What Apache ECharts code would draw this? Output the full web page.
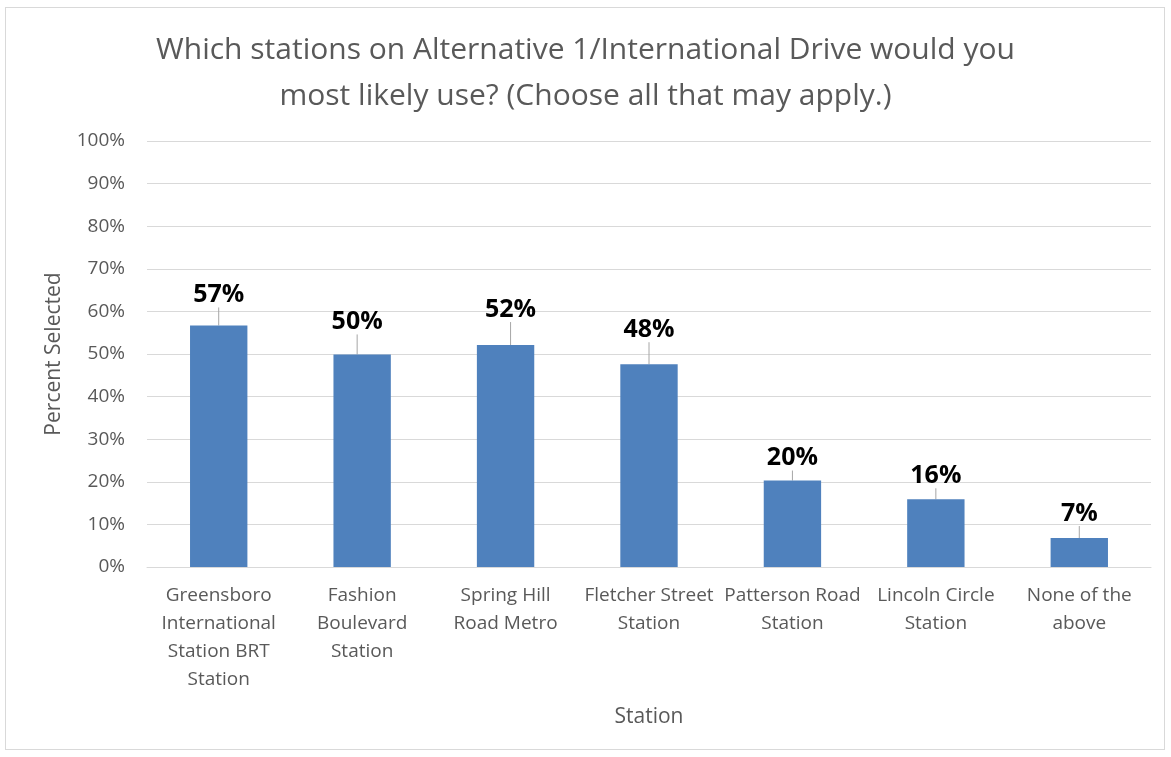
<!DOCTYPE html>
<html>
<head>
<meta charset="utf-8">
<script src="https://cdn.jsdelivr.net/npm/echarts@6/dist/echarts.min.js"></script>
<style>
html,body{margin:0;padding:0;background:#fff;}
#frame{position:absolute;left:5px;top:7px;width:1160px;height:743px;border:1px solid #D9D9D9;box-sizing:border-box;}
#chart{position:absolute;left:0;top:0;width:1171px;height:757px;}
</style>
</head>
<body>
<div id="frame"></div>
<div id="chart"></div>
<script>
var titleText = 'Which stations on Alternative 1/International Drive would you\nmost likely use? (Choose all that may apply.)';
var categories = [
  'Greensboro\nInternational\nStation BRT\nStation',
  'Fashion\nBoulevard\nStation',
  'Spring Hill\nRoad Metro',
  'Fletcher Street\nStation',
  'Patterson Road\nStation',
  'Lincoln Circle\nStation',
  'None of the\nabove'
];
var percentSelected = [56.7, 49.9, 52.1, 47.6, 20.3, 15.9, 6.8];
var yTicks = [0, 10, 20, 30, 40, 50, 60, 70, 80, 90, 100];
var yAxisName = 'Percent Selected';
var xAxisName = 'Station';

var labelDy = [-13, -15, -18, -17, -5, -6, -7];
var labelDx = [0, -5, 5, 0, 0, 0, 0];
var FONT = '"Open Sans", "Liberation Sans", sans-serif';

var chart = echarts.init(document.getElementById('chart'), null, {renderer: 'canvas'});
chart.setOption({
  backgroundColor: 'transparent',
  animation: false,
  title: {
    text: titleText,
    left: 'center',
    top: 22,
    textStyle: {fontFamily: FONT, fontSize: 30, fontWeight: 'normal', color: '#595959', lineHeight: 46}
  },
  grid: {left: 147, right: 20, top: 141, bottom: 190},
  xAxis: {
    type: 'category',
    data: categories,
    name: xAxisName,
    nameLocation: 'middle',
    nameGap: 140,
    nameTextStyle: {fontFamily: FONT, fontSize: 21, color: '#595959'},
    axisLine: {lineStyle: {color: '#D9D9D9', width: 1}},
    axisTick: {show: false},
    axisLabel: {fontFamily: FONT, fontSize: 19, color: '#595959', lineHeight: 28, margin: 15, interval: 0}
  },
  yAxis: {
    type: 'value',
    min: 0, max: 100, interval: 10,
    name: yAxisName,
    nameLocation: 'middle',
    nameGap: 82,
    nameRotate: 90,
    nameTextStyle: {fontFamily: FONT, fontSize: 21, color: '#595959'},
    axisLine: {show: false},
    axisTick: {show: false},
    splitLine: {lineStyle: {color: '#D9D9D9', width: 1}},
    axisLabel: {fontFamily: FONT, fontSize: 19, color: '#595959', margin: 22,
      formatter: function (v) { return yTicks.indexOf(v) >= 0 ? v + '%' : ''; }}
  },
  series: [{
    type: 'bar',
    data: percentSelected,
    barWidth: '40%',
    itemStyle: {color: '#4F81BD'},
    label: {
      show: true,
      position: 'top',
      distance: 5,
      fontFamily: FONT, fontSize: 25, fontWeight: 'bold', color: '#000',
      formatter: function (p) { return Math.round(p.value) + '%'; }
    },
    labelLayout: function (p) {
      return {dy: labelDy[p.dataIndex], dx: labelDx[p.dataIndex]};
    },
    labelLine: {show: true, lineStyle: {color: '#A6A6A6', width: 1}, length2: 0}
  }]
});
</script>
</body>
</html>
